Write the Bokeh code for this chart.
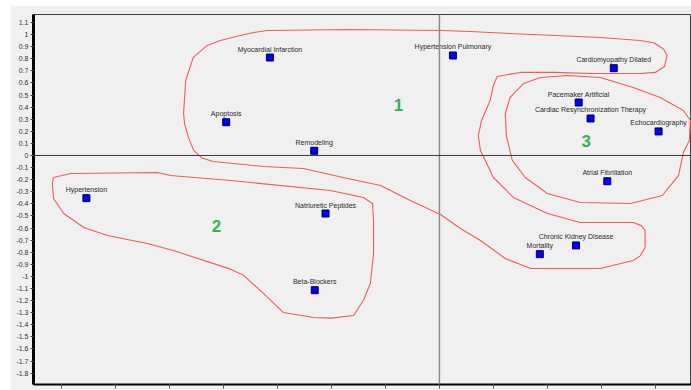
from bokeh.plotting import figure
from bokeh.models import Range1d, FixedTicker, Span, ColumnDataSource, Spacer, CustomLabelingPolicy
from bokeh.layouts import row, column
from bokeh.core.properties import value
from bokeh.embed import file_html
from bokeh.resources import INLINE

# ---- data -------------------------------------------------------------
terms = ["Myocardial Infarction", "Apoptosis", "Remodeling", "Hypertension Pulmonary",
         "Cardiomyopathy Dilated", "Pacemaker Artificial", "Cardiac Resynchronization Therapy",
         "Echocardiography", "Atrial Fibrillation", "Hypertension", "Natriuretic Peptides",
         "Beta-Blockers", "Chronic Kidney Disease", "Mortality"]
term_x = [-0.314, -0.395, -0.232, 0.025, 0.323, 0.258, 0.280, 0.406, 0.311,
          -0.654, -0.211, -0.231, 0.253, 0.186]
term_y = [0.81, 0.275, 0.039, 0.827, 0.722, 0.438, 0.306, 0.199, -0.213,
          -0.353, -0.48, -1.114, -0.744, -0.816]

cluster_names = ["1", "2", "3"]
cluster_x = [-0.076, -0.413, 0.272]
cluster_y = [0.42, -0.58, 0.116]

contour1_x = [-0.319, -0.165, 0.002, 0.057, 0.131, 0.298, 0.372, 0.398, 0.415, 0.422, 0.417,
              0.400, 0.372, 0.280, 0.215, 0.150, 0.107, 0.100, 0.094, 0.078, 0.072,
              0.076, 0.085, 0.100, 0.137, 0.200, 0.261, 0.359, 0.374, 0.381, 0.381, 0.372, 0.359,
              0.298, 0.169, 0.122, 0.076, 0.039, 0.002, -0.054, -0.109, -0.170, -0.252,
              -0.326, -0.419, -0.440, -0.455, -0.465, -0.472, -0.474, -0.470, -0.456, -0.430,
              -0.406, -0.369, -0.344, -0.319]
contour1_y = [1.034, 1.042, 1.034, 1.026, 1.009, 0.976, 0.951, 0.930, 0.880, 0.827, 0.736,
              0.687, 0.678, 0.678, 0.687, 0.687, 0.653, 0.579, 0.455, 0.289, 0.165,
              0.041, -0.041, -0.182, -0.347, -0.480, -0.554, -0.554, -0.580, -0.620, -0.761, -0.830, -0.868,
              -0.935, -0.935, -0.852, -0.703, -0.604, -0.488, -0.372, -0.248, -0.190, -0.108,
              -0.091, -0.050, -0.020, 0.040, 0.150, 0.260, 0.347, 0.620, 0.811, 0.910,
              0.951, 0.993, 1.017, 1.034]

contour2_x = [-0.715, -0.683, -0.522, -0.498, -0.387, -0.202, -0.141, -0.124, -0.122, -0.122,
              -0.128, -0.141, -0.159, -0.200, -0.233, -0.289, -0.326, -0.363, -0.387, -0.493, -0.541,
              -0.615, -0.659, -0.696, -0.715, -0.717, -0.715]
contour2_y = [-0.182, -0.149, -0.141, -0.165, -0.207, -0.289, -0.347, -0.397, -0.538, -0.811,
              -1.059, -1.199, -1.323, -1.345, -1.340, -1.299, -1.141, -0.990, -0.940, -0.786, -0.728,
              -0.662, -0.596, -0.480, -0.356, -0.232, -0.182]

contour3_x = [0.187, 0.237, 0.298, 0.359, 0.409, 0.452, 0.465, 0.463, 0.452, 0.443,
              0.413, 0.354, 0.261, 0.200, 0.159, 0.135, 0.124, 0.122, 0.131, 0.156, 0.187]
contour3_y = [0.645, 0.662, 0.645, 0.562, 0.480, 0.372, 0.289, 0.124, 0.025, -0.165,
              -0.331, -0.397, -0.389, -0.314, -0.182, -0.041, 0.165, 0.347, 0.480, 0.596, 0.645]

y_tick_values = [1.1, 1.0, 0.9, 0.8, 0.7, 0.6, 0.5, 0.4, 0.3, 0.2, 0.1, 0.0,
                 -0.1, -0.2, -0.3, -0.4, -0.5, -0.6, -0.7, -0.8, -0.9, -1.0,
                 -1.1, -1.2, -1.3, -1.4, -1.5, -1.6, -1.7, -1.8]
y_tick_labels = ["1.1", "1", "0.9", "0.8", "0.7", "0.6", "0.5", "0.4", "0.3", "0.2", "0.1", "0",
                 "-0.1", "-0.2", "-0.3", "-0.4", "-0.5", "-0.6", "-0.7", "-0.8", "-0.9", "-1",
                 "-1.1", "-1.2", "-1.3", "-1.4", "-1.5", "-1.6", "-1.7", "-1.8"]
x_tick_values = [-0.7, -0.6, -0.5, -0.4, -0.3, -0.2, -0.1, 0.0, 0.1, 0.2, 0.3, 0.4]

# ---- figure -----------------------------------------------------------
BG = "#f0f0f0"
p = figure(width=681, height=385, output_backend="svg", toolbar_location=None,
           x_range=Range1d(-0.752, 0.467), y_range=Range1d(-1.894, 1.166),
           min_border_left=23, min_border_top=9, min_border_right=0, min_border_bottom=6)
p.background_fill_color = BG
p.border_fill_color = BG
p.grid.visible = False
p.outline_line_color = "#404040"
p.outline_line_width = 1

ya = p.yaxis[0]
ya.ticker = FixedTicker(ticks=y_tick_values)
ya.major_label_overrides = {v: l for v, l in zip(y_tick_values, y_tick_labels)}
ya.axis_line_color = "black"
ya.axis_line_width = 3
ya.major_tick_in = 0
ya.major_tick_out = 3
ya.major_tick_line_color = "#444444"
ya.minor_tick_line_color = None
ya.major_label_text_font = "Liberation Sans"
ya.major_label_text_font_size = "7px"
ya.major_label_text_color = "#333333"
ya.major_label_standoff = 2

xa = p.xaxis[0]
xa.ticker = FixedTicker(ticks=x_tick_values)
xa.axis_line_color = "black"
xa.axis_line_width = 2
xa.major_tick_in = 0
xa.major_tick_out = 4
xa.major_tick_line_color = "#555555"
xa.minor_tick_line_color = None
xa.major_label_text_font_size = "0px"
xa.major_label_standoff = 0
xa.major_label_policy = CustomLabelingPolicy(code="return new Set()")

p.add_layout(Span(location=0, dimension="height", line_color="#8a8a8a", line_width=1.5))
p.add_layout(Span(location=0, dimension="width", line_color="#3a3a3a", line_width=1))

red = "#f05a5a"
for cx, cy in [(contour1_x, contour1_y), (contour2_x, contour2_y), (contour3_x, contour3_y)]:
    p.line(cx, cy, line_color=red, line_width=1.1, line_join="round")

src = ColumnDataSource(dict(x=term_x, y=term_y, t=terms))
p.scatter("x", "y", source=src, marker="square", size=7, fill_color="#0000ff",
          line_color="#000050", line_width=1)
p.text("x", "y", text="t", source=src, text_align="center", text_baseline="bottom",
       y_offset=-5, text_font=value("Liberation Sans"), text_font_size="7px",
       text_color="#2a2a2a")

csrc = ColumnDataSource(dict(x=cluster_x, y=cluster_y, t=cluster_names))
p.text("x", "y", text="t", source=csrc, text_align="center", text_baseline="middle",
       text_font=value("Liberation Sans"), text_font_size="17px", text_font_style="bold",
       text_color="#2fb351")

layout = row(Spacer(width=10, height=390), column(Spacer(width=681, height=5), p))
open("out.html", "w").write(file_html(layout, INLINE))
